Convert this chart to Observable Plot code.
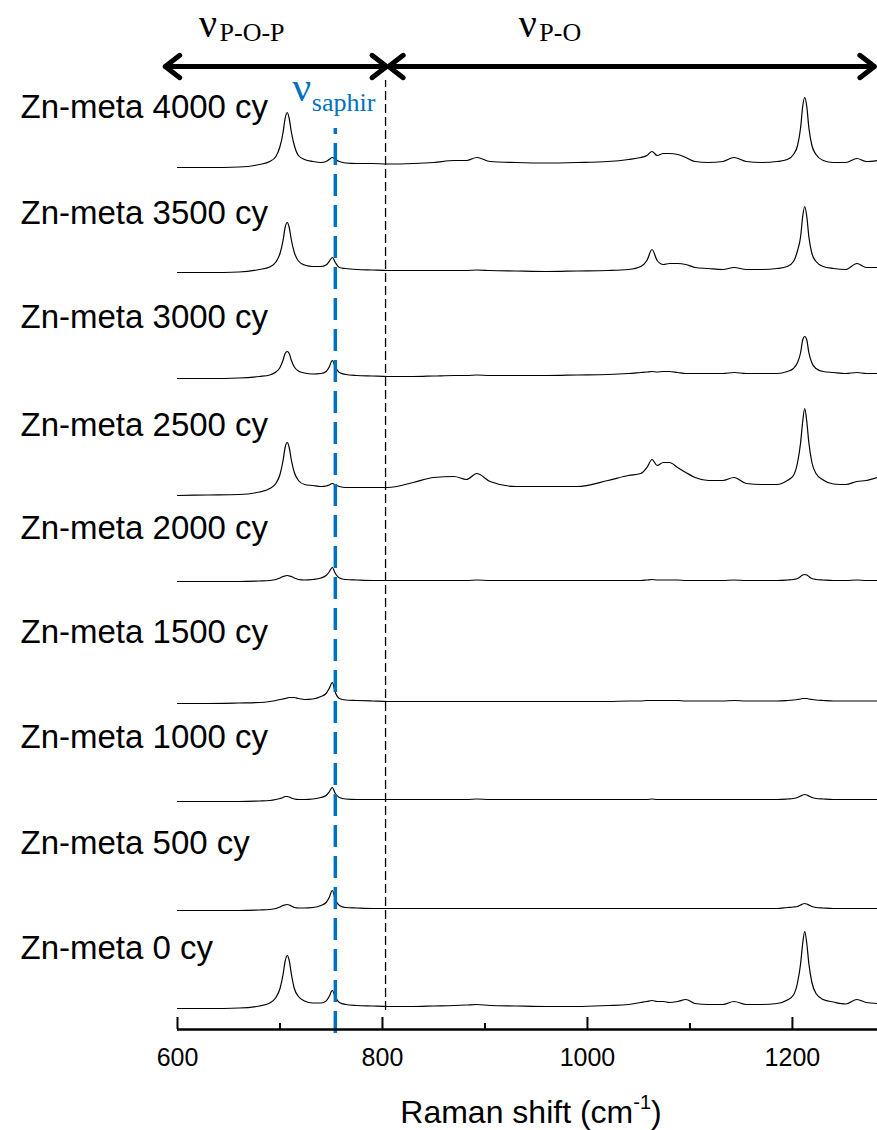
<!DOCTYPE html>
<html><head><meta charset="utf-8">
<script src="https://cdn.jsdelivr.net/npm/d3@7"></script>
<script src="https://cdn.jsdelivr.net/npm/@observablehq/plot@0.6"></script>
<style>
body{margin:0;background:#fff;}
#wrap{position:relative;width:877px;height:1130px;overflow:hidden;}
#title{position:absolute;left:531px;top:1085px;transform:translateX(-50%);font-family:"Liberation Sans",Arial,sans-serif;font-size:32px;line-height:54px;white-space:nowrap;color:#000;}
#title sup{font-size:20px;line-height:0;position:relative;top:-2px;}
</style></head>
<body>
<div id="wrap"><div id="chart"></div><div id="title">Raman shift (cm<sup>-1</sup>)</div></div>
<script>
// Raman shift grid (cm-1)
const wavenumbers = [600, 630, 660, 680, 690, 696, 700, 703, 705, 707,
  709, 711, 714, 718, 724, 732, 740, 745, 748, 751,
  754, 758, 764, 775, 790, 805, 830, 850, 870, 882,
  892, 905, 930, 960, 990, 1020, 1040, 1052, 1058, 1063,
  1068, 1074, 1080, 1088, 1096, 1105, 1118, 1132, 1143, 1155,
  1170, 1185, 1195, 1201, 1205, 1208, 1210, 1212, 1214, 1216,
  1219, 1223, 1230, 1240, 1252, 1263, 1272, 1283];

// intensities (a.u., above each trace's own offset)
const s4000 = [0, 0, 0.5, 3, 6, 11, 21, 35, 49, 55,
  49, 36, 22, 12, 8, 6, 5, 6, 8, 10,
  8, 6, 4.5, 4, 4, 3.5, 4, 5, 7, 7,
  10, 6, 5, 4.5, 5, 6, 8, 10, 12, 16,
  12, 14, 14, 13, 10, 6, 5, 6, 10, 6,
  5, 6, 8, 13, 22, 40, 61, 70, 61, 40,
  22, 13, 7, 5, 5, 9, 6, 7];
const s3500 = [0, 0, 0.5, 3, 5.5, 10.5, 19, 32, 45, 50,
  45, 33, 20, 11.5, 7.5, 6, 6, 7.5, 11, 15,
  10, 5, 4, 3, 2.5, 2, 2, 2, 2, 2,
  2.5, 2, 1.5, 1, 1.5, 2, 3, 6, 12, 23,
  12, 8, 9, 9, 8, 5, 4, 3, 5, 3,
  3, 4, 6, 11, 22, 36, 56, 66, 56, 36,
  19, 11, 6, 4, 3, 9, 5, 5];
const s3000 = [0, 0, 0.5, 2, 3.5, 6.5, 11, 18.5, 25, 27,
  25, 18.5, 11.5, 7.5, 5.5, 4.5, 5, 7, 11.5, 18,
  11.5, 6, 4, 3, 2.5, 2, 2, 2.5, 3, 3,
  3.5, 3, 3, 3, 3.5, 4, 5, 6, 6.5, 7,
  6.5, 7, 7, 6, 5, 5, 5, 5, 6, 5,
  5, 5, 7, 10, 16, 26, 38.5, 42, 38.5, 26,
  15.5, 10, 7, 6, 5, 6, 5, 5];
const s2500 = [0, 0.5, 1, 3.5, 7, 12, 21, 35, 48, 53,
  48, 36, 23, 15, 11, 10, 9, 9.5, 10.5, 12,
  10.5, 9, 8, 8, 8, 8, 13, 18, 19, 16,
  22, 14, 9, 9, 9, 15, 20, 22, 28, 36,
  30, 33, 33, 28, 23, 18, 15, 15, 18, 12,
  11, 11, 15, 20, 33, 53, 74, 87, 74, 53,
  33, 22, 15.5, 11.5, 11, 14, 15, 18];
const s2000 = [0, 0, 0, 0.5, 1, 2, 3.5, 5, 5.5, 6,
  5.5, 5, 3.5, 2, 1.5, 2, 3.5, 6, 9.5, 14,
  8, 3.5, 2, 1.5, 1, 1, 1, 1, 1, 1,
  1.5, 1, 1, 1, 1, 1, 1, 1, 1.5, 2,
  1.5, 1.5, 1.5, 1.5, 1, 1, 1, 1, 1.5, 1,
  1, 1, 1.5, 2, 3, 5, 6.5, 7, 6.5, 5,
  3, 2, 1.5, 1, 1, 1.5, 1, 1];
const s1500 = [0, 0, 0.5, 1, 2, 3, 4, 4.5, 5, 5.5,
  6, 6, 6, 5, 4, 4.5, 7, 10, 15, 21,
  11, 5, 3.5, 3, 2.5, 2, 2, 2, 2, 2,
  2, 2, 2, 2, 2, 2, 2.5, 2.5, 3, 3,
  3, 3, 3, 3, 2.5, 2.5, 2.5, 2.5, 3, 2.5,
  2.5, 2.5, 3, 3.5, 4, 4.5, 5, 5, 5, 4.5,
  4, 3.5, 3, 2.5, 2.5, 2.5, 2.5, 2.5];
const s1000 = [0, 0, 0, 0.5, 1, 2, 3, 4, 5, 5,
  4.5, 3.5, 2.5, 2, 2, 2.5, 4, 6, 9.5, 14,
  8, 4, 2.5, 2, 2, 2, 2, 2, 2, 2,
  2.5, 2, 2, 2, 2, 2, 2, 2, 2, 2.5,
  2, 2, 2, 2, 2, 2, 2, 2, 2, 2,
  2, 2, 2.5, 3, 4, 5.5, 6.5, 7, 6.5, 5.5,
  4, 3, 2.5, 2, 2, 2, 2, 2];
const s500 = [0, 0, 0, 0.5, 1, 2, 3.5, 5, 5.5, 6,
  5.5, 4.5, 3, 2.5, 2.5, 3, 5, 8, 13, 20,
  11, 5, 3, 2.5, 2, 2, 2, 2, 2, 2,
  2, 2, 2, 2, 2, 2, 2, 2, 2, 2,
  2, 2, 2, 2, 2, 2, 2, 2, 2, 2,
  2, 2, 3, 3.5, 4, 5.5, 6.5, 7, 6.5, 5.5,
  4, 3, 2.5, 2, 2, 2, 2, 2];
const s0 = [0, 0, 0.5, 2.5, 5.5, 11, 20, 34, 47, 53,
  48, 35, 20, 12, 7.5, 5.5, 5.5, 7.5, 12, 18,
  11.5, 6, 4, 3, 2.5, 2, 2, 2.5, 3, 3.5,
  4, 3, 2.5, 2, 2, 3, 4, 6, 7, 8,
  7, 7, 6, 7, 9, 5, 4, 4, 7, 4,
  4, 5, 8.5, 13.5, 26, 45, 65, 77, 65, 45,
  26, 15, 9, 6.5, 4.5, 9, 6, 5];

const sampleLabels = ["Zn-meta 4000 cy", "Zn-meta 3500 cy", "Zn-meta 3000 cy", "Zn-meta 2500 cy",
  "Zn-meta 2000 cy", "Zn-meta 1500 cy", "Zn-meta 1000 cy", "Zn-meta 500 cy", "Zn-meta 0 cy"];
const seriesValues = [s4000, s3500, s3000, s2500, s2000, s1500, s1000, s500, s0];
// vertical stacking offsets (a.u.)
const stackOffsets = [862, 757, 651, 534, 448, 326, 228, 119, 21];
const labelLevels = [922, 816, 712, 604, 501, 397, 292, 186, 81];

const majorTicks = [600, 800, 1000, 1200];
const minorTicks = [700, 900, 1100];
const saphirShift = 754;
const regionBoundary = 803;

const rows = [];
sampleLabels.forEach((lab, i) => {
  wavenumbers.forEach((w, j) => rows.push({label: lab, x: w, y: stackOffsets[i] + seriesValues[i][j]}));
});
const labelRows = sampleLabels.map((lab, i) => ({label: lab, y: labelLevels[i]}));

const serif = "'Liberation Serif','Times New Roman',serif";
const blue = "#0070C0";

const chart = Plot.plot({
  width: 877, height: 1085,
  marginLeft: 177, marginRight: 0, marginTop: 0, marginBottom: 56,
  style: {fontFamily: "'Liberation Sans',Arial,sans-serif", background: "#fff", color: "#000"},
  x: {domain: [600, 1283]},
  y: {domain: [0, 1029], axis: null},
  marks: [
    Plot.ruleX([regionBoundary], {y1: 19, y2: 949, stroke: "#000", strokeWidth: 1.3, strokeDasharray: "9,4"}),
    Plot.line(rows, {x: "x", y: "y", z: "label", stroke: "#000", strokeWidth: 1.2, curve: "monotone-x"}),
    Plot.ruleX([saphirShift], {y1: -4, y2: 901, stroke: blue, strokeWidth: 3.5, strokeDasharray: "22,9"}),
    Plot.text(labelRows, {x: 600, y: "y", text: "label", dx: -157, textAnchor: "start", lineAnchor: "middle", fontSize: 33, fill: "#000"}),
    Plot.arrow([{a: 700, b: 588}, {a: 700, b: 804}, {a: 1000, b: 806}, {a: 1000, b: 1280}],
      {x1: "a", x2: "b", y1: 963, y2: 963, stroke: "#000", strokeWidth: 5, headLength: 5.5, headAngle: 75, strokeLinecap: "round", strokeLinejoin: "round"}),
    Plot.text(["ν"], {x: 621, y: 993, text: d => d, textAnchor: "start", lineAnchor: "bottom", fontSize: 40, fontFamily: serif, fill: "#000"}),
    Plot.text(["P-O-P"], {x: 641, y: 989, text: d => d, textAnchor: "start", lineAnchor: "bottom", fontSize: 26, fontFamily: serif, fill: "#000"}),
    Plot.text(["ν"], {x: 933, y: 993, text: d => d, textAnchor: "start", lineAnchor: "bottom", fontSize: 40, fontFamily: serif, fill: "#000"}),
    Plot.text(["P-O"], {x: 953, y: 989, text: d => d, textAnchor: "start", lineAnchor: "bottom", fontSize: 26, fontFamily: serif, fill: "#000"}),
    Plot.text(["ν"], {x: 712, y: 929, text: d => d, textAnchor: "start", lineAnchor: "bottom", fontSize: 42, fontFamily: serif, fill: blue}),
    Plot.text(["saphir"], {x: 731, y: 919, text: d => d, textAnchor: "start", lineAnchor: "bottom", fontSize: 26, fontFamily: serif, fill: blue}),
    Plot.ruleY([0], {x1: 600, x2: 1283, stroke: "#000", strokeWidth: 2.5}),
    Plot.ruleX(majorTicks, {y1: 0, y2: 12, stroke: "#000", strokeWidth: 2}),
    Plot.ruleX(minorTicks, {y1: 0, y2: 6, stroke: "#000", strokeWidth: 2}),
    Plot.axisX({ticks: majorTicks, tickSize: 0, tickPadding: 19, fontSize: 25, label: null, tickFormat: d => `${d}`})
  ]
});
document.getElementById("chart").appendChild(chart);
</script>
</body></html>
